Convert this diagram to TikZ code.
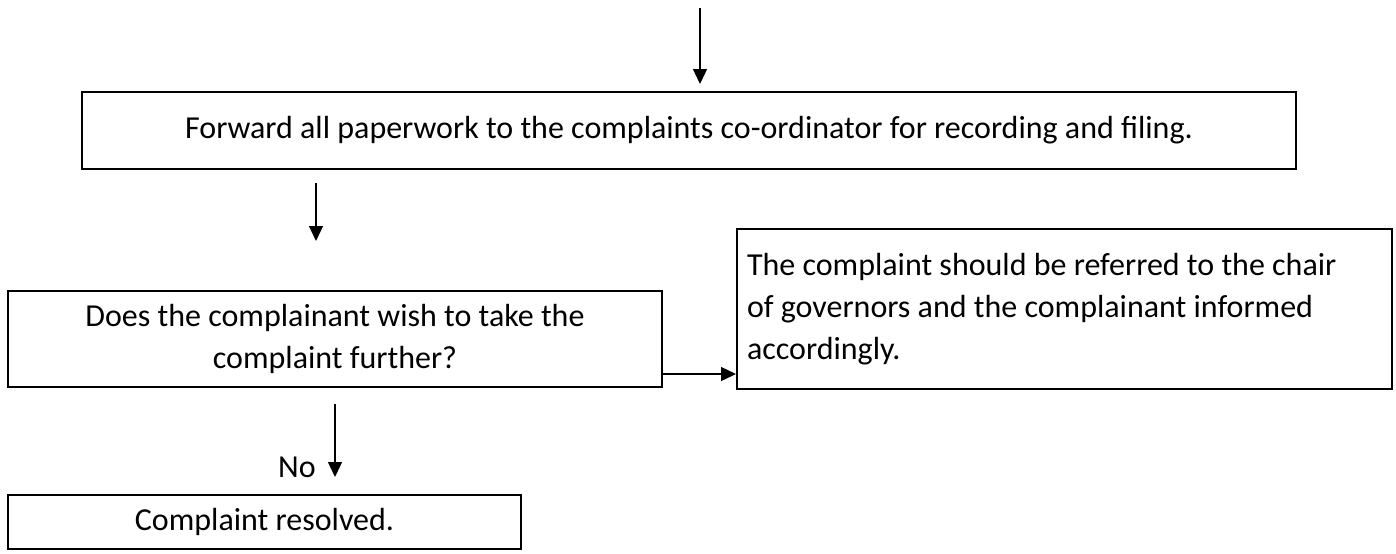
\documentclass[tikz,border=0pt]{standalone}
\usepackage{fontspec}
\setmainfont{Carlito}
\usetikzlibrary{arrows.meta,positioning}

\begin{document}
\begin{tikzpicture}[
      x=1pt, y=1pt,
      stepbox/.style={
        draw,
        line width=1pt,
        inner sep=0pt,
        align=center,
        font=\fontsize{16}{21}\selectfont
      },
      flow/.style={-{Triangle[length=7.5pt,width=7pt]}, line width=0.65pt},
      label/.style={font=\fontsize{16}{21}\selectfont}
    ]
    \useasboundingbox (0,0) rectangle (698,-276.5);

    \node[stepbox, minimum width=607pt, minimum height=38.5pt] (forward) at (344.5,-65.25)
      {Forward all paperwork to the complaints co-ordinator for recording and filing.};
    \node[stepbox, minimum width=327pt, minimum height=48pt] (further) at (167.5,-169.5)
      {Does the complainant wish to take the\\complaint further?};
    \node[stepbox, align=flush left, inner xsep=5pt, text width=317.5pt, minimum height=80pt] (chair) at (532.25,-154.5)
      {The complaint should be referred to the chair\\of governors and the complainant informed\\accordingly.};
    \node[stepbox, minimum width=256.5pt, minimum height=27pt] (resolved) at (132.25,-261)
      {Complaint resolved.};

    % free ends of the connectors
    \coordinate (entry) at (350,-4);
    \coordinate (next) at (158,-91.5);
    \coordinate (ask) at (158,-120.5);
    \coordinate (yes) at ([yshift=7pt]further.south east);

    \draw[flow] (entry) -- (entry |- forward.north) [shorten >=3.5pt];
    \draw[flow] (next) -- (ask);
    \draw[flow] (yes) -- (yes -| chair.west);
    \draw[flow, shorten <=8pt, shorten >=8.5pt] (further.south) --
      node[label, pos=0.75, left=6pt] (no) {No} (resolved.north -| further.south);
  \end{tikzpicture}
\end{document}
